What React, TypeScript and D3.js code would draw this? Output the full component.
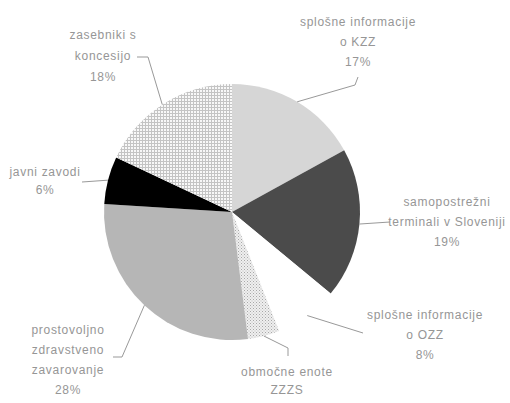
import React from "react";
import * as d3 from "d3";

const categories = [
  "splošne informacije o KZZ",
  "samopostrežni terminali v Sloveniji",
  "splošne informacije o OZZ",
  "območne enote ZZZS",
  "prostovoljno zdravstveno zavarovanje",
  "javni zavodi",
  "zasebniki s koncesijo",
];
const values = [17, 19, 8, 4, 28, 6, 18];
const labelLines = [
  ["splošne informacije", "o KZZ", "17%"],
  ["samopostrežni", "terminali v Sloveniji", "19%"],
  ["splošne informacije", "o OZZ", "8%"],
  ["območne enote", "ZZZS"],
  ["prostovoljno", "zdravstveno", "zavarovanje", "28%"],
  ["javni zavodi", "6%"],
  ["zasebniki s", "koncesijo", "18%"],
];

const fills = ["#d6d6d6", "#4b4b4b", "#ffffff", "url(#dots)", "#b6b6b6", "#000000", "url(#grid)"];

// layout: label centre x, first line centre y, line step, leader anchor angle (deg, null = mid), elbow points
const layout = [
  { x: 358, y: 22, step: 20, angle: null, pts: [[355, 85], [358, 77]] },
  { x: 447, y: 202, step: 20, angle: null, pts: [[390, 222]] },
  { x: 425, y: 315, step: 20, angle: null, pts: [[363, 333]] },
  { x: 287, y: 372, step: 18, angle: null, pts: [[288, 348], [288, 356]] },
  { x: 68, y: 330, step: 20, angle: null, pts: [[122, 357], [113, 357]] },
  { x: 45, y: 172, step: 18, angle: null, pts: [[82, 182]] },
  { x: 103, y: 35, step: 21, angle: 327, pts: [[148, 57], [137, 57]] },
];

const W = 510, H = 403;
const cx = 232, cy = 212, R = 128;

export default function App() {
  const pie = d3.pie<number>().sort(null).value((d) => d);
  const arcs = pie(values);
  const arc = d3.arc<d3.PieArcDatum<number>>().innerRadius(0).outerRadius(R);

  return (
    <svg width={W} height={H} style={{ position: "absolute", left: 0, top: 0, background: "#fff" }}
      fontFamily="'Liberation Sans', Arial, sans-serif">
      <defs>
        <pattern id="grid" width="3" height="3" patternUnits="userSpaceOnUse">
          <rect width="3" height="3" fill="#f8f8f8" />
          <path d="M0 0.5H3M0.5 0V3" stroke="#c4c4c4" strokeWidth="1" />
        </pattern>
        <pattern id="dots" width="3" height="3" patternUnits="userSpaceOnUse">
          <rect width="3" height="3" fill="#efefef" />
          <rect x="0" y="0" width="1" height="1" fill="#a8a8a8" />
          <rect x="1.5" y="1.5" width="1" height="1" fill="#bcbcbc" />
        </pattern>
      </defs>
      <g transform={`translate(${cx},${cy})`}>
        {arcs.map((a, i) => (
          <path key={categories[i]} d={arc(a) || ""} fill={fills[i]} stroke="none" />
        ))}
      </g>
      {arcs.map((a, i) => {
        const L = layout[i];
        const ang = L.angle != null ? (L.angle * Math.PI) / 180 : (a.startAngle + a.endAngle) / 2;
        const ex = cx + R * Math.sin(ang);
        const ey = cy - R * Math.cos(ang);
        const pts = [[ex, ey], ...L.pts];
        return (
          <g key={"l" + i}>
            <polyline points={pts.map((p) => p.join(",")).join(" ")} fill="none" stroke="#999" strokeWidth={1} />
            {labelLines[i].map((t, j) => (
              <text key={j} x={L.x} y={L.y + j * L.step + 4} textAnchor="middle" fontSize={12}
                fill="#969696" letterSpacing="0.7">
                {t}
              </text>
            ))}
          </g>
        );
      })}
    </svg>
  );
}
